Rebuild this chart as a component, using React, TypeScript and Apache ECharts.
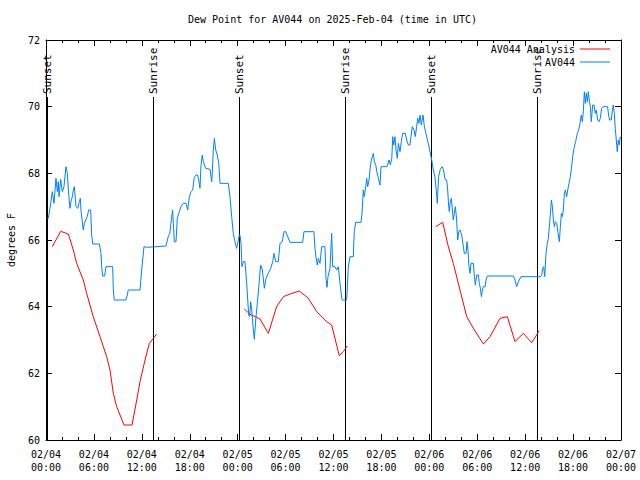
import React, { useEffect, useRef } from 'react';
import * as echarts from 'echarts';

const FONT = '"DejaVu Sans Mono", "Liberation Mono", monospace';
const titleText = 'Dew Point for AV044 on 2025-Feb-04 (time in UTC)';
const yAxisName = 'degrees F';
const seriesNames = ['AV044 Analysis', 'AV044'];

const xTickLabels = [
  '02/04\n00:00', '02/04\n06:00', '02/04\n12:00', '02/04\n18:00',
  '02/05\n00:00', '02/05\n06:00', '02/05\n12:00', '02/05\n18:00',
  '02/06\n00:00', '02/06\n06:00', '02/06\n12:00', '02/06\n18:00',
  '02/07\n00:00',
];

// hours since 2025-02-04 00:00 UTC
const sunEventHours = [0.15, 13.44, 24.17, 37.44, 48.21, 61.42];
const sunEventLabels = ['Sunset', 'Sunrise', 'Sunset', 'Sunrise', 'Sunset', 'Sunrise'];

const analysisNight1 = [
  [0.79, 65.8], [1.84, 66.26], [2.79, 66.18], [3.42, 65.7], [3.84, 65.3], [4.67, 64.8],
  [5.09, 64.4], [5.92, 63.7], [6.76, 63.1], [7.6, 62.5], [8.01, 62.1], [8.43, 61.4],
  [8.85, 61.0], [9.77, 60.45], [10.77, 60.45], [11.36, 61.2], [11.77, 61.75],
  [12.4, 62.4], [12.94, 62.9], [13.44, 63.05], [13.86, 63.18],
];
const analysisNight2 = [
  [24.83, 63.93], [25.55, 63.77], [26.2, 63.7], [26.8, 63.63], [27.84, 63.2], [28.88, 64.0],
  [29.72, 64.3], [30.56, 64.38], [31.72, 64.47], [32.85, 64.25], [33.9, 63.85],
  [35.15, 63.55], [35.77, 63.45], [36.72, 62.53], [37.22, 62.65], [37.73, 62.82],
];
const analysisNight3 = [
  [48.8, 66.4], [49.67, 66.53], [50.38, 65.8], [51.0, 65.3], [51.84, 64.5], [52.68, 63.7],
  [53.51, 63.35], [54.77, 62.88], [55.6, 63.1], [56.85, 63.65], [57.77, 63.7],
  [58.73, 62.95], [59.77, 63.2], [60.82, 62.92], [61.77, 63.28],
];

const stationDay1 = [
  [0.16, 66.65], [0.29, 66.65], [0.5, 66.95], [0.79, 67.45], [1.0, 67.1], [1.25, 67.85],
  [1.42, 67.45], [1.54, 67.75], [1.63, 67.3], [1.84, 67.82], [2.04, 67.45], [2.25, 67.6],
  [2.5, 68.2], [2.67, 68.0], [2.8, 67.5], [3.0, 66.95], [3.13, 67.15], [3.3, 67.3],
  [3.42, 67.5], [3.55, 67.6], [3.76, 67.0], [3.97, 66.95], [4.17, 67.15], [4.3, 67.25],
  [4.38, 66.9], [4.55, 66.55], [4.67, 66.3], [4.8, 66.5], [4.97, 66.6], [5.17, 66.7],
  [5.34, 66.9], [5.59, 66.9], [5.72, 66.15], [5.85, 65.88], [6.68, 65.88], [6.89, 65.6],
  [6.97, 65.2], [7.1, 64.92], [7.35, 64.92], [7.51, 65.2], [8.35, 65.2], [8.43, 64.5],
  [8.55, 64.2], [10.0, 64.2], [10.18, 64.35], [10.3, 64.5], [11.77, 64.5], [11.98, 65.1],
  [12.27, 65.8], [12.6, 65.78], [15.03, 65.82], [15.3, 66.1], [15.5, 66.2], [15.74, 66.7],
  [15.86, 66.9], [15.94, 66.5], [16.07, 65.95], [16.28, 65.95], [16.44, 66.65],
  [16.69, 66.85], [16.9, 67.0], [17.19, 67.1], [17.53, 67.1], [17.74, 66.9], [17.94, 67.28],
  [18.16, 67.45], [18.37, 67.5], [18.57, 67.88], [18.78, 67.95], [18.99, 67.95],
  [19.16, 67.75], [19.28, 67.55], [19.41, 68.25], [19.57, 68.55], [19.7, 68.35],
  [19.99, 68.15], [20.54, 68.12], [20.75, 67.75], [20.82, 68.0], [20.95, 68.7],
  [21.08, 69.05], [21.25, 68.7], [21.45, 68.55], [21.63, 68.3], [21.79, 67.7],
  [22.83, 67.7], [23.04, 67.3], [23.25, 66.7], [23.45, 66.2], [23.66, 65.95], [23.87, 65.75],
];
const stationDay2 = [
  [24.08, 66.0], [24.2, 66.15], [24.29, 66.15], [24.42, 65.9], [24.54, 65.2], [24.71, 65.35],
  [24.92, 65.35], [25.13, 64.7], [25.3, 64.05], [25.38, 63.75], [25.5, 63.7], [25.63, 64.15],
  [25.76, 63.9], [25.96, 63.3], [26.09, 63.02], [26.26, 63.6], [26.46, 64.1], [26.68, 64.7],
  [26.88, 65.25], [27.09, 65.1], [27.34, 64.55], [27.55, 64.85], [27.84, 65.0],
  [28.14, 65.15], [28.39, 65.35], [28.55, 65.6], [28.76, 65.35], [29.09, 65.35],
  [29.3, 65.9], [29.59, 65.95], [29.8, 66.25], [30.01, 66.25], [30.56, 65.93],
  [32.14, 65.93], [32.3, 66.25], [33.55, 66.25], [33.68, 65.75], [33.8, 65.5],
  [33.97, 65.25], [34.1, 65.45], [34.31, 65.3], [34.52, 65.8], [34.93, 65.8],
  [35.06, 64.85], [35.19, 64.58], [35.31, 64.9], [35.56, 65.15], [35.77, 66.2],
  [35.9, 65.2], [36.19, 65.2], [36.4, 65.1], [36.6, 65.2], [36.82, 64.7], [37.03, 64.25],
  [37.1, 64.2], [37.65, 64.2], [37.86, 65.2], [38.07, 65.5], [38.48, 65.5], [38.6, 66.25],
  [38.78, 66.53], [39.44, 66.53], [39.57, 66.8], [39.73, 67.5], [39.86, 67.3],
  [40.03, 67.6], [40.16, 67.85], [40.28, 67.6], [40.45, 67.8], [40.57, 68.1],
  [40.7, 68.35], [40.86, 68.5], [40.99, 68.6], [41.11, 68.35], [41.3, 68.25],
  [41.41, 68.05], [41.62, 67.85], [41.82, 67.65], [41.95, 68.2], [42.7, 68.2],
  [42.95, 68.4], [43.12, 68.25], [43.3, 68.45], [43.42, 69.1], [43.54, 68.85],
  [43.7, 69.1], [43.83, 68.7], [43.99, 68.45], [44.12, 68.9], [44.33, 68.65],
  [44.49, 68.95], [44.66, 69.2], [45.0, 69.2], [45.16, 69.0], [45.37, 68.85],
  [45.58, 68.85], [45.7, 69.1], [45.87, 69.4], [46.08, 69.3], [46.24, 69.1],
  [46.41, 69.4], [46.54, 69.65], [46.7, 69.5], [46.83, 69.75], [47.0, 69.45],
  [47.21, 69.75], [47.38, 69.4], [47.58, 69.2], [47.75, 69.0], [47.92, 68.85],
];
const stationDay3 = [
  [48.08, 68.65], [48.3, 68.4], [48.5, 68.1], [48.7, 67.9], [48.83, 67.6], [49.0, 67.1],
  [49.16, 67.9], [49.37, 68.12], [49.6, 68.2], [49.78, 68.1], [49.96, 67.82], [50.17, 67.8],
  [50.3, 67.5], [50.42, 67.0], [50.5, 66.85], [50.63, 67.15], [50.76, 67.25], [50.89, 66.9],
  [51.0, 66.6], [51.13, 66.8], [51.26, 67.0], [51.42, 66.6], [51.55, 66.0], [51.68, 66.25],
  [51.84, 66.3], [52.05, 66.15], [52.26, 65.8], [52.38, 65.6], [52.6, 65.6], [52.72, 65.95],
  [52.85, 65.65], [52.97, 65.2], [53.1, 65.0], [53.22, 65.3], [53.51, 65.3], [53.64, 64.9],
  [53.76, 64.65], [53.93, 64.95], [54.14, 64.95], [54.26, 64.7], [54.39, 64.55],
  [54.52, 64.3], [54.64, 64.5], [54.77, 64.6], [54.98, 64.6], [55.1, 64.8], [55.26, 64.92],
  [58.52, 64.92], [58.73, 64.8], [58.94, 64.6], [59.15, 64.75], [59.49, 64.9],
  [61.9, 64.9], [62.07, 64.95], [62.2, 65.15], [62.32, 65.2], [62.45, 64.9], [62.61, 65.6],
  [62.78, 65.9], [62.9, 66.05], [63.03, 66.4], [63.16, 66.8], [63.28, 67.2], [63.41, 67.0],
  [63.53, 66.6], [63.66, 66.4], [63.78, 66.55], [63.95, 66.5], [64.12, 66.2],
  [64.28, 65.95], [64.41, 66.4], [64.53, 66.8], [64.66, 66.7], [64.78, 66.9],
  [64.91, 67.4], [65.04, 67.5], [65.2, 67.3], [65.33, 67.5], [65.49, 67.7], [65.66, 67.9],
  [65.82, 68.2], [65.95, 68.5], [66.11, 68.75], [66.32, 68.95], [66.53, 69.2],
  [66.7, 69.3], [66.87, 69.5], [67.03, 69.75], [67.16, 69.55], [67.28, 69.85],
  [67.41, 70.45], [67.53, 70.1], [67.66, 70.4], [67.78, 70.15], [67.91, 70.45],
  [68.03, 70.2], [68.16, 70.0], [68.28, 69.55], [68.45, 70.05], [68.62, 70.05],
  [68.78, 69.8], [68.91, 69.9], [69.07, 69.6], [69.24, 69.55], [69.41, 69.65],
  [69.57, 69.95], [69.74, 70.0], [70.32, 70.0], [70.45, 69.75], [70.57, 69.6],
  [70.78, 69.6], [70.9, 69.85], [71.03, 70.05], [71.16, 69.8], [71.28, 69.35],
  [71.41, 69.0], [71.53, 68.65], [71.66, 69.0], [71.78, 68.85], [71.91, 69.1],
];

const X_MIN = 0;
const X_MAX = 72;
const Y_MIN = 60;
const Y_MAX = 72;
const SUN_LINE_TOP = 70.29;

export default function App() {
  const ref = useRef<HTMLDivElement>(null);

  useEffect(() => {
    if (!ref.current) return;
    const chart = echarts.init(ref.current, null, { renderer: 'svg' });

    const analysisData = [
      ...analysisNight1, [19, '-'],
      ...analysisNight2, [43, '-'],
      ...analysisNight3,
    ];
    const stationData = [...stationDay1, ...stationDay2, ...stationDay3];
    const sunData = sunEventHours.map((h) => [h, SUN_LINE_TOP]);

    const textBase = { fontFamily: FONT, fontSize: 10, color: '#000' };

    const xCommon = {
      type: 'value',
      min: X_MIN,
      max: X_MAX,
      interval: 6,
      splitLine: { show: false },
      axisLine: { show: true, onZero: false, lineStyle: { color: '#000', width: 1 } },
      axisTick: { show: true, inside: true, length: 6, lineStyle: { color: '#000' } },
      minorTick: { show: true, splitNumber: 3, length: 3, lineStyle: { color: '#000' } },
      minorSplitLine: { show: false },
    };
    const yCommon = {
      type: 'value',
      min: Y_MIN,
      max: Y_MAX,
      interval: 2,
      splitLine: { show: false },
      axisLine: { show: true, onZero: false, lineStyle: { color: '#000', width: 1 } },
      axisTick: { show: true, inside: true, length: 6, lineStyle: { color: '#000' } },
    };

    const legendCommon = {
      orient: 'vertical',
      align: 'right',
      right: 30,
      icon: 'rect',
      itemWidth: 30,
      itemHeight: 1,
      selectedMode: false,
      textStyle: { ...textBase },
      padding: 0,
    };

    chart.setOption({
      animation: false,
      backgroundColor: '#fff',
      title: {
        text: titleText,
        left: 188,
        top: 14,
        padding: 0,
        textStyle: { ...textBase, fontWeight: 'normal' },
      },
      legend: [
        { ...legendCommon, data: [seriesNames[0]], top: 44 },
        { ...legendCommon, data: [seriesNames[1]], top: 57 },
      ],
      grid: {
        left: 46,
        right: 19,
        top: 40,
        bottom: 40,
        containLabel: false,
        outerBoundsMode: 'none',
      },
      xAxis: [
        {
          ...xCommon,
          position: 'bottom',
          axisLabel: {
            ...textBase,
            margin: 8,
            lineHeight: 13,
            formatter: (v: number) => xTickLabels[Math.round(v / 6)] ?? '',
          },
        },
        { ...xCommon, position: 'top', axisLabel: { show: false } },
      ],
      yAxis: [
        {
          ...yCommon,
          position: 'left',
          name: yAxisName,
          nameLocation: 'middle',
          nameGap: 30,
          nameRotate: 90,
          nameTextStyle: { ...textBase },
          axisLabel: { ...textBase, margin: 6 },
        },
        { ...yCommon, position: 'right', axisLabel: { show: false } },
      ],
      series: [
        {
          name: seriesNames[0],
          type: 'line',
          data: analysisData,
          symbol: 'none',
          connectNulls: false,
          color: '#ff0000',
          lineStyle: { color: '#ff0000', width: 1 },
          z: 3,
        },
        {
          name: seriesNames[1],
          type: 'line',
          data: stationData,
          symbol: 'none',
          color: '#0080ff',
          lineStyle: { color: '#0080ff', width: 1 },
          z: 4,
        },
        {
          name: 'sun',
          type: 'custom',
          data: sunData,
          encode: { x: 0, y: 1 },
          clip: false,
          z: 2,
          renderItem: (params: any, api: any) => {
            const h = api.value(0);
            const top = api.value(1);
            const p0 = api.coord([h, Y_MIN]);
            const p1 = api.coord([h, top]);
            const xs = Math.round(p1[0]) + 0.5;
            return {
              type: 'group',
              children: [
                {
                  type: 'line',
                  shape: { x1: xs, y1: p0[1], x2: xs, y2: p1[1] },
                  style: { stroke: '#000', lineWidth: 1 },
                },
                {
                  type: 'text',
                  x: xs,
                  y: p1[1] - 3,
                  rotation: Math.PI / 2,
                  style: {
                    text: sunEventLabels[params.dataIndex],
                    fill: '#000',
                    font: `11px ${FONT}`,
                    align: 'left',
                    verticalAlign: 'middle',
                  },
                },
              ],
            };
          },
        },
      ],
    });

    return () => chart.dispose();
  }, []);

  return (
    <div
      ref={ref}
      style={{ position: 'fixed', left: 0, top: 0, width: 640, height: 480, background: '#fff' }}
    />
  );
}
